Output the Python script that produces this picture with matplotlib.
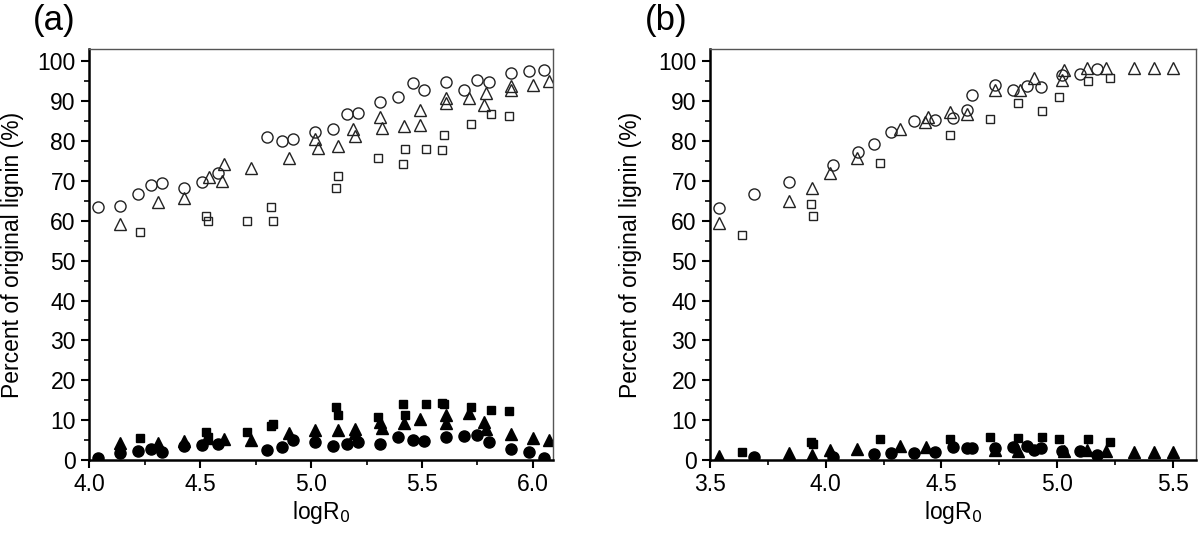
import matplotlib.pyplot as plt
from matplotlib.ticker import MultipleLocator, FormatStrFormatter

plt.rcParams['font.family'] = ['Liberation Sans', 'DejaVu Sans']

# ---- panel (a) ----
a_circ_x = [4.04, 4.14, 4.22, 4.28, 4.33, 4.43, 4.51, 4.58, 4.80, 4.87, 4.92, 5.02, 5.10,
            5.16, 5.21, 5.31, 5.39, 5.46, 5.51, 5.61, 5.69, 5.75, 5.80, 5.90, 5.98, 6.05]
a_circ_open = [63.5, 63.8, 66.8, 68.9, 69.4, 68.1, 69.6, 72.1, 81.0, 79.9, 80.4, 82.2, 83.1,
               86.8, 87.0, 89.8, 91.0, 94.5, 92.8, 94.7, 92.9, 95.3, 94.8, 97.1, 97.5, 97.8]
a_circ_fill = [0.6, 1.8, 2.2, 2.7, 2.1, 3.5, 3.7, 3.9, 2.5, 3.2, 5.0, 4.6, 3.5,
               3.9, 4.5, 4.0, 5.7, 5.0, 4.8, 5.7, 6.0, 6.2, 4.6, 2.7, 2.1, 0.6]

a_tri_open_x = [4.14, 4.31, 4.43, 4.54, 4.60, 4.61, 4.73, 4.90, 5.02, 5.03, 5.12, 5.19, 5.20,
                5.31, 5.32, 5.42, 5.49, 5.49, 5.61, 5.61, 5.71, 5.78, 5.79, 5.90, 5.90, 6.00, 6.07]
a_tri_open = [59.3, 64.6, 65.8, 71.0, 70.0, 74.2, 73.2, 75.8, 80.6, 78.2, 78.8, 83.0, 81.2,
              86.1, 83.3, 83.8, 87.8, 84.0, 90.8, 89.5, 90.8, 89.0, 92.0, 93.8, 92.8, 94.0, 95.0]
a_tri_fill_x = [4.14, 4.31, 4.43, 4.53, 4.61, 4.73, 4.90, 5.02, 5.12, 5.20, 5.20, 5.31, 5.32,
                5.42, 5.49, 5.61, 5.61, 5.71, 5.78, 5.79, 5.90, 6.00, 6.07]
a_tri_fill = [4.2, 4.3, 4.8, 5.5, 5.2, 5.0, 6.7, 7.5, 7.5, 7.7, 6.7, 9.6, 7.9,
              9.2, 10.4, 11.2, 9.2, 11.9, 9.6, 7.7, 6.4, 5.4, 5.0]

a_sq_x = [4.23, 4.525, 4.535, 4.71, 4.82, 4.83, 5.113, 5.122, 5.30, 5.415, 5.423,
          5.52, 5.59, 5.60, 5.72, 5.81, 5.89]
a_sq_open = [57.3, 61.1, 59.9, 59.9, 63.5, 59.9, 68.1, 71.3, 75.7, 74.2, 78.0,
             77.9, 77.7, 81.5, 84.3, 86.9, 86.2]
a_sq_fill = [5.4, 6.9, 5.8, 6.9, 8.5, 9.0, 13.3, 11.4, 10.8, 14.0, 11.4,
             14.0, 14.3, 14.0, 13.3, 12.5, 12.2]

# ---- panel (b) ----
b_circ_open_x = [3.54, 3.69, 3.84, 4.03, 4.14, 4.21, 4.28, 4.38, 4.47, 4.55, 4.61, 4.63,
                 4.73, 4.81, 4.87, 4.93, 5.02, 5.10, 5.17]
b_circ_open = [63.2, 66.6, 69.7, 74.1, 77.2, 79.2, 82.2, 84.9, 85.2, 85.8, 87.7, 91.6,
               94.0, 92.9, 93.7, 93.6, 96.5, 96.8, 98.1]
b_circ_fill_x = [3.69, 4.03, 4.21, 4.28, 4.38, 4.47, 4.55, 4.61, 4.63, 4.73, 4.81, 4.87,
                 4.90, 4.93, 5.02, 5.10, 5.17]
b_circ_fill = [0.7, 0.8, 1.4, 1.7, 1.8, 2.1, 3.3, 2.9, 2.9, 2.9, 3.2, 3.6,
               2.5, 2.9, 2.3, 2.3, 1.2]

b_tri_open_x = [3.54, 3.84, 3.94, 4.02, 4.135, 4.32, 4.43, 4.44, 4.535, 4.61, 4.73, 4.84,
                4.90, 5.02, 5.03, 5.13, 5.21, 5.33, 5.42, 5.50]
b_tri_open = [59.4, 65.0, 68.1, 72.1, 75.7, 83.1, 84.7, 86.1, 87.3, 86.7, 92.9, 92.9,
              95.8, 95.2, 97.7, 98.3, 98.3, 98.2, 98.2, 98.2]
b_tri_fill_x = [3.54, 3.84, 3.94, 4.02, 4.135, 4.32, 4.435, 4.73, 4.83, 5.03, 5.13, 5.21,
                5.33, 5.42, 5.50]
b_tri_fill = [1.1, 1.7, 1.2, 2.5, 2.7, 3.5, 3.2, 2.5, 2.2, 2.3, 2.5, 2.3,
              2.1, 2.1, 2.1]

b_sq_x = [3.64, 3.936, 3.943, 4.233, 4.535, 4.709, 4.829, 4.936, 5.008, 5.133, 5.23]
b_sq_open = [56.5, 64.3, 61.3, 74.5, 81.5, 85.5, 89.6, 87.6, 91.1, 95.0, 95.7]
b_sq_fill = [1.9, 4.6, 4.0, 5.2, 5.2, 5.8, 5.4, 5.8, 5.2, 5.2, 4.5]

fig = plt.figure(figsize=(12, 5.39), dpi=100)
ax_a = fig.add_axes([0.0742, 0.1466, 0.3866, 0.7619])
ax_b = fig.add_axes([0.5917, 0.1466, 0.405, 0.7619])

ec = '#222222'
open_kw = dict(ls='none', mfc='none', mec=ec, mew=1.0)
fill_kw = dict(ls='none', color='black', mec='black')


def draw(ax, series):
    for x, y, m, ms, kw in series:
        ax.plot(x, y, marker=m, ms=ms, **kw)


draw(ax_a, [
    (a_circ_x, a_circ_open, 'o', 8, open_kw),
    (a_tri_open_x, a_tri_open, '^', 8, open_kw),
    (a_sq_x, a_sq_open, 's', 6.3, open_kw),
    (a_circ_x, a_circ_fill, 'o', 8, fill_kw),
    (a_tri_fill_x, a_tri_fill, '^', 8, fill_kw),
    (a_sq_x, a_sq_fill, 's', 6.3, fill_kw),
])
draw(ax_b, [
    (b_circ_open_x, b_circ_open, 'o', 8, open_kw),
    (b_tri_open_x, b_tri_open, '^', 8, open_kw),
    (b_sq_x, b_sq_open, 's', 6.3, open_kw),
    (b_circ_fill_x, b_circ_fill, 'o', 8, fill_kw),
    (b_tri_fill_x, b_tri_fill, '^', 8, fill_kw),
    (b_sq_x, b_sq_fill, 's', 6.3, fill_kw),
])

ax_a.set_xlim(4.0, 6.09)
ax_b.set_xlim(3.5, 5.6)

for ax in (ax_a, ax_b):
    ax.set_ylim(0, 103)
    ax.xaxis.set_major_locator(MultipleLocator(0.5))
    ax.xaxis.set_minor_locator(MultipleLocator(0.25))
    ax.xaxis.set_major_formatter(FormatStrFormatter('%.1f'))
    ax.yaxis.set_major_locator(MultipleLocator(10))
    ax.yaxis.set_minor_locator(MultipleLocator(5))
    ax.tick_params(which='major', direction='out', length=6, width=1.5, labelsize=16.5)
    ax.tick_params(which='minor', direction='out', length=3.5, width=1.2)
    ax.spines['left'].set_linewidth(1.8)
    ax.spines['bottom'].set_linewidth(1.8)
    for s in ('top', 'right'):
        ax.spines[s].set_linewidth(1.0)
        ax.spines[s].set_color('#555555')
    ax.set_xlabel('logR$_0$', fontsize=16.5)
    ax.set_ylabel('Percent of original lignin (%)', fontsize=16.5)
    ax.xaxis.set_label_coords(0.5, -0.095)
    ax.yaxis.set_label_coords(-0.14, 0.5)

fig.text(0.027, 0.962, '(a)', fontsize=25, va='center')
fig.text(0.537, 0.962, '(b)', fontsize=25, va='center')

fig.savefig('out.png', dpi=100)
